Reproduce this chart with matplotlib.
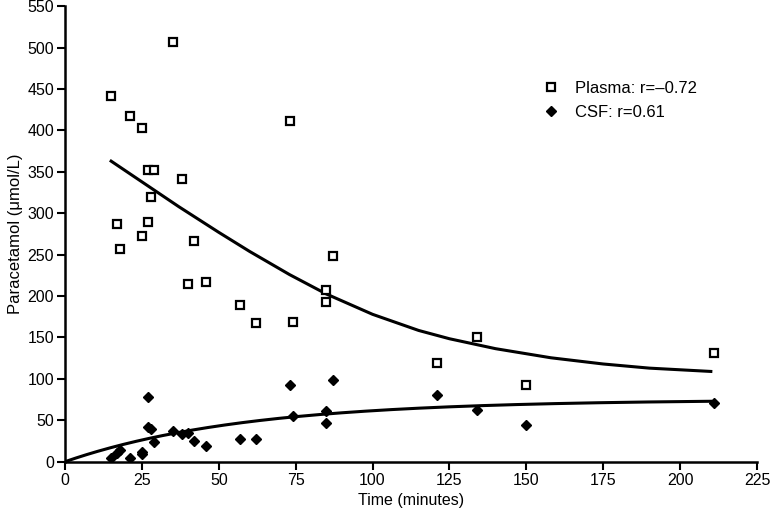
import numpy as np
import matplotlib
matplotlib.use("Agg")
import matplotlib.pyplot as plt

plt.rcParams['font.family'] = ['Liberation Sans', 'DejaVu Sans']

# Scatter data
plasma_t = [15, 17, 18, 21, 25, 25, 27, 29, 28, 27, 35, 38, 40, 42, 46, 57, 62, 73, 74, 85, 85, 87, 121, 134, 150, 211]
plasma_c = [442, 287, 257, 418, 403, 272, 352, 352, 320, 290, 507, 342, 214, 266, 217, 189, 168, 411, 169, 207, 193, 248, 119, 151, 93, 131]

csf_t = [15, 17, 18, 21, 25, 25, 27, 27, 28, 29, 35, 38, 40, 42, 46, 57, 62, 73, 74, 85, 85, 87, 121, 134, 150, 211]
csf_c = [5, 11, 14, 5, 9, 12, 78, 42, 39, 24, 37, 33, 35, 25, 19, 27, 27, 93, 55, 61, 47, 99, 81, 62, 44, 71]

# Plasma trend line
plasma_fit_t = [15, 25, 37, 50, 60, 73, 85, 100, 115, 125, 140, 158, 175, 190, 210]
plasma_fit_c = [363, 338, 308, 277, 254, 226, 202.5, 178, 158.5, 148.5, 136.5, 125.5, 118, 113, 109]

# CSF trend line: saturating model  C = Cmax * (1 - exp(-k t))
csf_fit_cmax = 75.0
csf_fit_k = 0.0172
csf_fit_range = (0, 210)

x_ticks = [0, 25, 50, 75, 100, 125, 150, 175, 200, 225]
y_ticks = [0, 50, 100, 150, 200, 250, 300, 350, 400, 450, 500, 550]

legend_labels = ["Plasma: r=\u20130.72", "CSF: r=0.61"]

fig = plt.figure(figsize=(7.71, 5.15), dpi=100)
ax = fig.add_axes([0.0843, 0.1035, 0.8975, 0.8843])

t_fit = np.linspace(csf_fit_range[0], csf_fit_range[1], 300)
ax.plot(t_fit, csf_fit_cmax * (1 - np.exp(-csf_fit_k * t_fit)), color='black', lw=2.2, zorder=2)
ax.plot(plasma_fit_t, plasma_fit_c, color='black', lw=2.2, zorder=2, solid_joinstyle='round')

h1, = ax.plot(plasma_t, plasma_c, linestyle='none', marker='s', markersize=5.3,
              markerfacecolor='white', markeredgecolor='black', markeredgewidth=1.6, zorder=3)
h2, = ax.plot(csf_t, csf_c, linestyle='none', marker='D', markersize=5.6,
              markerfacecolor='black', markeredgecolor='black', zorder=3)

ax.set_xlim(0, 225)
ax.set_ylim(0, 550)
ax.set_xticks(x_ticks)
ax.set_yticks(y_ticks)
ax.tick_params(direction='out', length=5.5, width=1.5, labelsize=11.5, colors='black', pad=2.5)
for s in ['top', 'right']:
    ax.spines[s].set_visible(False)
for s in ['left', 'bottom']:
    ax.spines[s].set_linewidth(1.8)

ax.set_xlabel("Time (minutes)", fontsize=11.5, labelpad=4)
ax.set_ylabel("Paracetamol (\u03bcmol/L)", fontsize=12, labelpad=3)

ax.legend([h1, h2], legend_labels, loc='center left', bbox_to_anchor=(0.690, 0.794),
          frameon=False, fontsize=12, handlelength=1.0, handletextpad=0.95,
          labelspacing=0.55, borderpad=0, borderaxespad=0)

fig.savefig("out.png", dpi=100)
